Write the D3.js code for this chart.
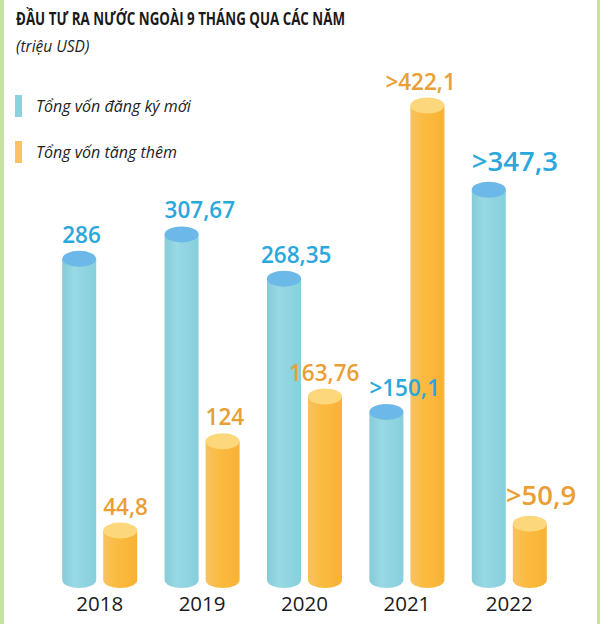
<!DOCTYPE html>
<html lang="vi">
<head>
  <meta charset="UTF-8">
  <title>Đầu tư ra nước ngoài 9 tháng qua các năm</title>
  <style>
    html, body { margin: 0; padding: 0; background: #fff; }
    svg { display: block; font-family: "Open Sans", "Noto Sans", sans-serif; }
  </style>
</head>
<body>
  <svg id="chart" width="600" height="624"></svg>

  <script src="https://d3js.org/d3.v7.min.js"></script>
  <script>
    // data (million USD)
    const years = ["2018", "2019", "2020", "2021", "2022"];
    const newCapital = [286, 307.67, 268.35, 150.1, 347.3];
    const addedCapital = [44.8, 124, 163.76, 422.1, 50.9];
    const newLabels = ["286", "307,67", "268,35", ">150,1", ">347,3"];
    const addedLabels = ["44,8", "124", "163,76", ">422,1", ">50,9"];
    const seriesNames = ["Tổng vốn đăng ký mới", "Tổng vốn tăng thêm"];

    const width = 600, height = 624;
    const svg = d3.select("#chart");

    const colors = {
      top: ["#6cb8e8", "#fdd77b"],
      label: ["#2aa8dc", "#e99f35"],
      legend: ["#8dd1e0", "#fbc463"]
    };

    // green side strips
    svg.append("rect").attr("x", 0).attr("y", 0).attr("width", 4).attr("height", height).attr("fill", "#c4e3a3");
    svg.append("rect").attr("x", 597).attr("y", 0).attr("width", 3).attr("height", height).attr("fill", "#c4e3a3");

    // title
    svg.append("text")
      .attr("x", 16).attr("y", 25)
      .attr("font-size", 17.5).attr("font-weight", 700).attr("fill", "#1a1a1a")
      .attr("textLength", 329).attr("lengthAdjust", "spacingAndGlyphs")
      .text("ĐẦU TƯ RA NƯỚC NGOÀI 9 THÁNG QUA CÁC NĂM");

    svg.append("text")
      .attr("x", 16).attr("y", 52)
      .attr("font-size", 15.5).attr("font-style", "italic").attr("fill", "#222")
      .text("(triệu USD)");

    // legend
    const legend = svg.append("g")
      .selectAll("g")
      .data(seriesNames)
      .join("g")
      .attr("transform", (d, i) => `translate(15,${95 + i * 46})`);

    legend.append("rect")
      .attr("width", 7).attr("height", 22)
      .attr("fill", (d, i) => colors.legend[i]);

    legend.append("text")
      .attr("x", 21).attr("y", 17)
      .attr("font-size", 16).attr("font-style", "italic").attr("fill", "#222")
      .text(d => d);

    // scales
    const x0 = d3.scaleBand().domain(years).range([48.5, 560.5]).padding(0);
    const x1 = d3.scaleBand().domain([0, 1]).range([-41, 41]).padding(0);
    const y = d3.scaleLinear().domain([0, 422.1]).range([581, 105.5]);

    const rx = 17, ry = 8;
    const baseY = y(0) - 1;

    // gradients for the cylinder bodies
    const defs = svg.append("defs");
    const gradStops = [
      [["0%", "#86cbd9"], ["35%", "#98d9e4"], ["100%", "#86cfdc"]],
      [["0%", "#f7c261"], ["40%", "#fbbb40"], ["100%", "#f8b235"]]
    ];
    gradStops.forEach((stops, i) => {
      const g = defs.append("linearGradient").attr("id", "grad" + i)
        .attr("x1", "0%").attr("x2", "100%").attr("y1", "0%").attr("y2", "0%");
      stops.forEach(s => g.append("stop").attr("offset", s[0]).attr("stop-color", s[1]));
    });

    const bars = [];
    years.forEach((yr, i) => {
      bars.push({ year: yr, s: 0, value: newCapital[i], label: newLabels[i] });
      bars.push({ year: yr, s: 1, value: addedCapital[i], label: addedLabels[i] });
    });

    // small label nudges to follow the original layout
    const labelShift = {
      "2020-0": -6, "2020-1": -19, "2021-1": -25, "2022-1": -7
    };

    const cx = d => x0(d.year) + x0.bandwidth() / 2 + x1(d.s) + x1.bandwidth() / 2;

    const bar = svg.append("g")
      .selectAll("g")
      .data(bars)
      .join("g")
      .attr("transform", d => `translate(${cx(d)},0)`);

    bar.append("path")
      .attr("d", d => {
        const yt = y(d.value);
        return `M${-rx},${yt} L${-rx},${baseY} A${rx},${ry} 0 0 0 ${rx},${baseY} L${rx},${yt} Z`;
      })
      .attr("fill", d => `url(#grad${d.s})`);

    bar.append("ellipse")
      .attr("cx", 0).attr("cy", d => y(d.value))
      .attr("rx", rx).attr("ry", ry)
      .attr("fill", d => colors.top[d.s]);

    // value labels on top of every bar
    svg.append("g")
      .selectAll("text")
      .data(bars)
      .join("text")
      .attr("x", d => cx(d) - rx + (labelShift[d.year + "-" + d.s] || 0))
      .attr("y", d => y(d.value) - (d.year === "2022" ? 19 : 16))
      .attr("font-size", d => d.year === "2022" ? 27.5 : 22.5)
      .attr("font-weight", 600)
      .attr("fill", d => colors.label[d.s])
      .text(d => d.label);

    // year labels
    svg.append("g")
      .selectAll("text")
      .data(years)
      .join("text")
      .attr("x", d => x0(d) + x0.bandwidth() / 2)
      .attr("y", 611)
      .attr("text-anchor", "middle")
      .attr("font-size", 20.5)
      .attr("fill", "#1a1a1a")
      .text(d => d);
  </script>
</body>
</html>
